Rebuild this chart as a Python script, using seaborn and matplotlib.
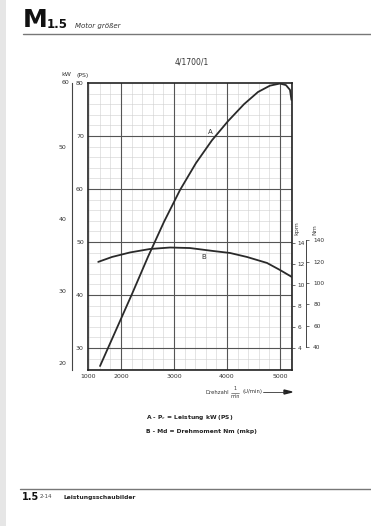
import numpy as np
import pandas as pd
import matplotlib
matplotlib.use("Agg")
import matplotlib.pyplot as plt
import seaborn as sns

# ---------------- data ----------------
rpm_power = [1604, 1906, 2208, 2509, 2811, 3113, 3415, 3717, 4019, 4321, 4585,
             4811, 5000, 5113, 5189, 5217]
power_ps = [26.6, 33.4, 40.2, 47.2, 53.8, 59.8, 64.9, 69.2, 72.8, 76.0, 78.3,
            79.5, 79.9, 79.6, 78.7, 76.8]

rpm_torque = [1570, 1830, 2170, 2547, 2925, 3302, 3736, 4057, 4377, 4755, 5000, 5226]
torque_kpm = [12.2, 12.67, 13.1, 13.43, 13.57, 13.52, 13.24, 13.05, 12.67, 12.1, 11.43, 10.76]

x_ticks = [1377, 2000, 3000, 4000, 5000]
x_labels = ["1000", "2000", "3000", "4000", "5000"]
ps_ticks = [30, 40, 50, 60, 70, 80]
kw_ticks = [20, 30, 40, 50]
kpm_ticks = [4, 6, 8, 10, 12, 14]
nm_ticks = [40, 60, 80, 100, 120, 140]

W, H = 371, 526
sns.set_theme(style="white")
plt.rcParams['font.family'] = ['DejaVu Sans']

fig = plt.figure(figsize=(W / 100, H / 100), dpi=100)
fig.patch.set_facecolor("white")

def fx(px):
    return px / W

def fy(py):
    return 1 - py / H

L, R, T, B = 88, 292, 83, 370
ax = fig.add_axes([fx(L), fy(B), fx(R - L), (B - T) / H])

xlim = (1377, 5227)
ps_lim = (25.85, 80.0)
ax.set_xlim(*xlim)
ax.set_ylim(*ps_lim)

# graph-paper grid
for v in np.arange(1400, 5227, 200):
    ax.axvline(v, color="#cfcfcf", lw=0.4, zorder=0)
for v in np.arange(26, 80, 2):
    ax.axhline(v, color="#cfcfcf", lw=0.4, zorder=0)
for v in [2000, 3000, 4000, 5000]:
    ax.axvline(v, color="#555555", lw=0.8, zorder=0.5)
for v in [30, 40, 50, 60, 70]:
    ax.axhline(v, color="#555555", lw=0.8, zorder=0.5)

df_p = pd.DataFrame({"rpm": rpm_power, "ps": power_ps})
sns.lineplot(data=df_p, x="rpm", y="ps", ax=ax, color="#2a2a2a", lw=1.3, zorder=3,
             solid_joinstyle="round", solid_capstyle="round")

ax.set_xticks(x_ticks)
ax.set_xticklabels(x_labels)
ax.set_yticks(ps_ticks)
ax.tick_params(axis="both", labelsize=4.5, length=0, pad=3, colors="#333333")
ax.set_xlabel("")
ax.set_ylabel("")
for s in ax.spines.values():
    s.set_color("#222222")
    s.set_linewidth(1.2)
ax.text(3640, 70.4, "A", fontsize=5, color="#333333")

# torque twin axis (kpm)
kpm_lim = (14 - (B - 243) / 10.5, 14 + (243 - T) / 10.5)
ax_t = ax.twinx()
ax_t.set_ylim(*kpm_lim)
df_t = pd.DataFrame({"rpm": rpm_torque, "kpm": torque_kpm})
sns.lineplot(data=df_t, x="rpm", y="kpm", ax=ax_t, color="#2a2a2a", lw=1.3, zorder=3,
             solid_joinstyle="round", solid_capstyle="round")
ax_t.set_yticks(kpm_ticks)
ax_t.tick_params(axis="y", labelsize=4.2, length=2, width=0.5, pad=2, colors="#333333")
ax_t.set_ylabel("")
for s in ax_t.spines.values():
    s.set_visible(False)
ax_t.text(3510, 12.5, "B", fontsize=5, color="#333333")

# Nm axis
ax_nm = fig.add_axes([fx(306), fy(B), 0.0005, (B - T) / H])
ax_nm.set_ylim(kpm_lim[0] * 9.81, kpm_lim[1] * 9.81)
ax_nm.set_xticks([])
for k in ["top", "bottom", "right"]:
    ax_nm.spines[k].set_visible(False)
ax_nm.spines["left"].set_color("#444444")
ax_nm.spines["left"].set_linewidth(0.7)
ax_nm.spines["left"].set_bounds(40, 140)
ax_nm.set_yticks(nm_ticks)
ax_nm.tick_params(axis="y", left=False, right=True, labelleft=False, labelright=True,
                  labelsize=4.2, length=2, width=0.5, pad=3, colors="#333333")
ax_nm.patch.set_alpha(0)

fig.text(fx(297), fy(228), "kpm", rotation=90, fontsize=4.5, color="#444444", ha="center", va="center")
fig.text(fx(315), fy(230), "Nm", rotation=90, fontsize=4.5, color="#444444", ha="center", va="center")

# kW axis
ax_kw = fig.add_axes([fx(72), fy(B), 0.0005, (B - T) / H])
ax_kw.set_ylim(ps_lim[0] / 1.36, ps_lim[1] / 1.36)
ax_kw.set_xticks([])
for k in ["top", "bottom", "right"]:
    ax_kw.spines[k].set_visible(False)
ax_kw.spines["left"].set_color("#444444")
ax_kw.spines["left"].set_linewidth(0.8)
ax_kw.set_yticks(kw_ticks)
ax_kw.tick_params(axis="y", labelsize=4.5, length=0, pad=4, colors="#333333")
ax_kw.patch.set_alpha(0)

fig.text(fx(66), fy(75), "kW", fontsize=4.5, ha="center", va="center", color="#333333")
fig.text(fx(83), fy(75), "(PS)", fontsize=4.5, ha="center", va="center", color="#333333")
fig.text(fx(66), fy(82), "60", fontsize=4.5, ha="center", va="center", color="#333333")

# title over chart
fig.text(fx(192), fy(62), "4/1700/1", fontsize=5.5, ha="center", va="center", color="#333333")

# rpm arrow label
fig.text(fx(205), fy(392), "Drehzahl", fontsize=3.8, ha="left", va="center", color="#333333")
fig.text(fx(235), fy(389), "1", fontsize=3.5, ha="center", va="center", color="#333333")
fig.text(fx(235), fy(396), "min", fontsize=3.5, ha="center", va="center", color="#333333")
fig.add_artist(plt.Line2D([fx(231), fx(239)], [fy(392.5), fy(392.5)], lw=0.4, color="#333333"))
fig.text(fx(242), fy(392), "(U/min)", fontsize=3.8, ha="left", va="center", color="#333333")
fig.add_artist(plt.Line2D([fx(263), fx(285)], [fy(392), fy(392)], lw=0.6, color="#333333"))
fig.add_artist(plt.Polygon([[fx(292), fy(392)], [fx(284), fy(390)], [fx(284), fy(394)]],
                           closed=True, color="#222222", transform=fig.transFigure))

# legend lines
fig.text(fx(146), fy(418), "A - P$_e$ = Leistung kW (PS)", fontsize=4.3, ha="left", va="center",
         color="#222222", weight="bold")
fig.text(fx(146), fy(432), "B - Md = Drehmoment Nm (mkp)", fontsize=4.3, ha="left", va="center",
         color="#222222", weight="bold")

# header
fig.text(fx(23), fy(20), "M", fontsize=18, weight="bold", ha="left", va="center", color="#111111")
fig.text(fx(47), fy(25), "1.5", fontsize=8.5, weight="bold", ha="left", va="center", color="#111111")
fig.text(fx(75), fy(26), "Motor größer", fontsize=5, style="italic", ha="left", va="center", color="#333333")
fig.add_artist(plt.Line2D([fx(23), fx(371)], [fy(34), fy(34)], lw=1.0, color="#777777"))

# footer
fig.add_artist(plt.Line2D([fx(20), fx(371)], [fy(489), fy(489)], lw=1.0, color="#777777"))
fig.text(fx(22), fy(497), "1.5", fontsize=7, weight="bold", ha="left", va="center", color="#111111")
fig.text(fx(40), fy(497), "2-14", fontsize=4, ha="left", va="center", color="#444444")
fig.text(fx(64), fy(497), "Leistungsschaubilder", fontsize=4.3, weight="bold", ha="left", va="center", color="#222222")

# scanned page left edge shading
fig.add_artist(plt.Rectangle((0, 0), fx(6), 1, transform=fig.transFigure, color="#e6e6e6", lw=0))

fig.savefig("out.png", dpi=100, facecolor="white")
